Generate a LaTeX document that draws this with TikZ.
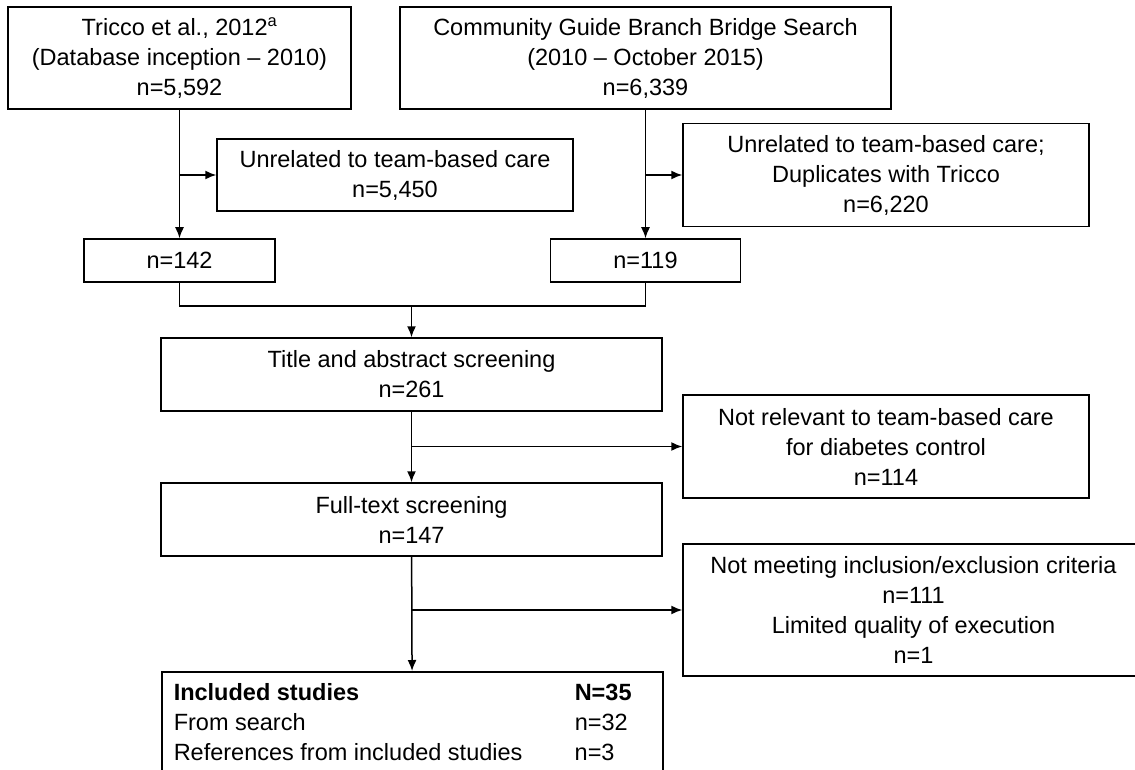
\documentclass[tikz,border=0pt]{standalone}
\usepackage{fontspec}
\setmainfont{Liberation Sans}
\usetikzlibrary{arrows.meta, positioning, calc}

\tikzset{
  box/.style={draw, rectangle, line width=1.5pt, align=center, inner sep=0pt},
  flow/.style={line width=1.5pt, -{Latex[length=11pt, width=9pt]}},
  link/.style={line width=1.5pt}
}

\begin{document}
\begin{tikzpicture}[x=1pt, y=-1pt, font=\fontsize{23.5}{30}\selectfont]
    \useasboundingbox (0,0) rectangle (1135,770);
    \clip (0,0) rectangle (1135,770);

    % sources
    \node[box, minimum width=343, minimum height=102] (T) at (179.5,58) {Tricco et al., 2012\textsuperscript{a}\\(Database inception – 2010)\\n=5,592};
    \node[box, minimum width=491, minimum height=102] (C) at (645.5,58) {Community Guide Branch Bridge Search\\(2010 – October 2015)\\n=6,339};
    \node[box, minimum width=356, minimum height=72] (U1) at (395,175) {Unrelated to team-based care\\n=5,450};
    \node[box, minimum width=406, minimum height=103] (U2) at (886,175) {Unrelated to team-based care;\\Duplicates with Tricco\\n=6,220};
    \node[box, minimum width=191, minimum height=43] (N1) at (179.5,260.5) {n=142};
    \node[box, minimum width=190, minimum height=43] (N2) at (645.5,260.5) {n=119};

    % screening
    \node[box, minimum width=501, minimum height=73] (S1) at (411.5,374.5) {Title and abstract screening\\n=261};
    \node[box, minimum width=406, minimum height=103] (X1) at (886,446.5) {Not relevant to team-based care\\for diabetes control\\n=114};
    \node[box, minimum width=501, minimum height=73] (S2) at (411.5,519.5) {Full-text screening\\n=147};
    \node[box, minimum width=461, minimum height=132] (X2) at (913.5,610) {Not meeting inclusion/exclusion criteria\\n=111\\Limited quality of execution\\n=1};
    \node[box, anchor=north west, minimum width=501, minimum height=106] (I) at (161,671) {\begin{tabular}{@{}p{401pt}@{}p{76pt}@{}}
        \textbf{Included studies} & \textbf{N=35}\\
        From search & n=32\\
        References from included studies & n=3
    \end{tabular}};

    \coordinate (b1) at (T.south |- U1.west);
    \coordinate (b2) at (C.south |- U2.west);
    \coordinate (m) at (411.5,306);
    \coordinate (b3) at (S1.south |- X1.west);
    \coordinate (b4) at (S2.south |- X2.west);

    \draw[flow] (T) -- (N1);
    \draw[flow] (b1) -- (U1);
    \draw[flow] (C) -- (N2);
    \draw[flow] (b2) -- (U2);
    \draw[link] (N1.south) |- (m) -| (N2.south);
    \draw[flow] (m) -- (S1);
    \draw[flow] (S1) -- (S2);
    \draw[flow] (b3) -- (X1);
    \draw[flow] (S2) -- (I);
    \draw[flow] (b4) -- (X2);
\end{tikzpicture}
\end{document}
